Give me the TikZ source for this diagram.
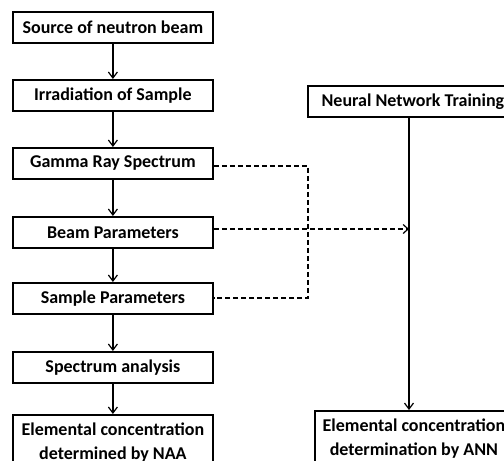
\documentclass[tikz,border=0pt]{standalone}
\usepackage{fontspec}
\setmainfont{Carlito}
\usetikzlibrary{arrows.meta}
\begin{document}
\begin{tikzpicture}[x=1pt,y=-1pt,
  box/.style={draw=black,line width=1.8pt,fill=white,minimum width=200pt,minimum height=31pt,inner sep=0pt,font=\bfseries\fontsize{18}{24}\selectfont,align=center,anchor=north west},
  tallbox/.style={box,minimum height=56pt},
  flow/.style={line width=1.2pt,-{Straight Barb[length=6pt,width=9pt,line width=1.2pt]}},
  dashln/.style={line width=1.4pt,dash pattern=on 5pt off 3pt},
  dasharrow/.style={dashln,-{Straight Barb[length=5pt,width=9pt,line width=1.2pt]}}]
\useasboundingbox (0,0) rectangle (504,461);
\fill[white] (0,0) rectangle (504,461);
\node[box] (src) at (12,11) {Source of neutron beam};
\node[box] (irr) at (12,79) {Irradiation of Sample};
\node[box] (gam) at (12,147) {Gamma Ray Spectrum};
\node[box] (beam) at (12,216) {Beam Parameters};
\node[box] (samp) at (12,282) {Sample Parameters};
\node[box] (spec) at (12,351) {Spectrum analysis};
\node[tallbox] (naa) at (12,414) {Elemental concentration\\determined by NAA};
\node[box,minimum width=210pt] (nn) at (307,85) {Neural Network Training};
\node[tallbox,minimum width=198pt] (ann) at (314,410) {Elemental concentration\\determination by ANN};
\draw[flow] (src) -- (irr);
\draw[flow] (irr) -- (gam);
\draw[flow] (gam) -- (beam);
\draw[flow] (beam) -- (samp);
\draw[flow] (samp) -- (spec);
\draw[flow] (spec) -- (naa);
\coordinate (j1) at (308,166);
\coordinate (j3) at (308,298);
\coordinate (hit) at (409,229);
\draw[dashln] (gam.east |- j1) -- (j1) -- (j3) -- (samp.east |- j3);
\draw[dasharrow] (beam.east |- hit) -- (hit);
\draw[flow] (nn.south -| hit) -- (ann.north -| hit);
\end{tikzpicture}
\end{document}
